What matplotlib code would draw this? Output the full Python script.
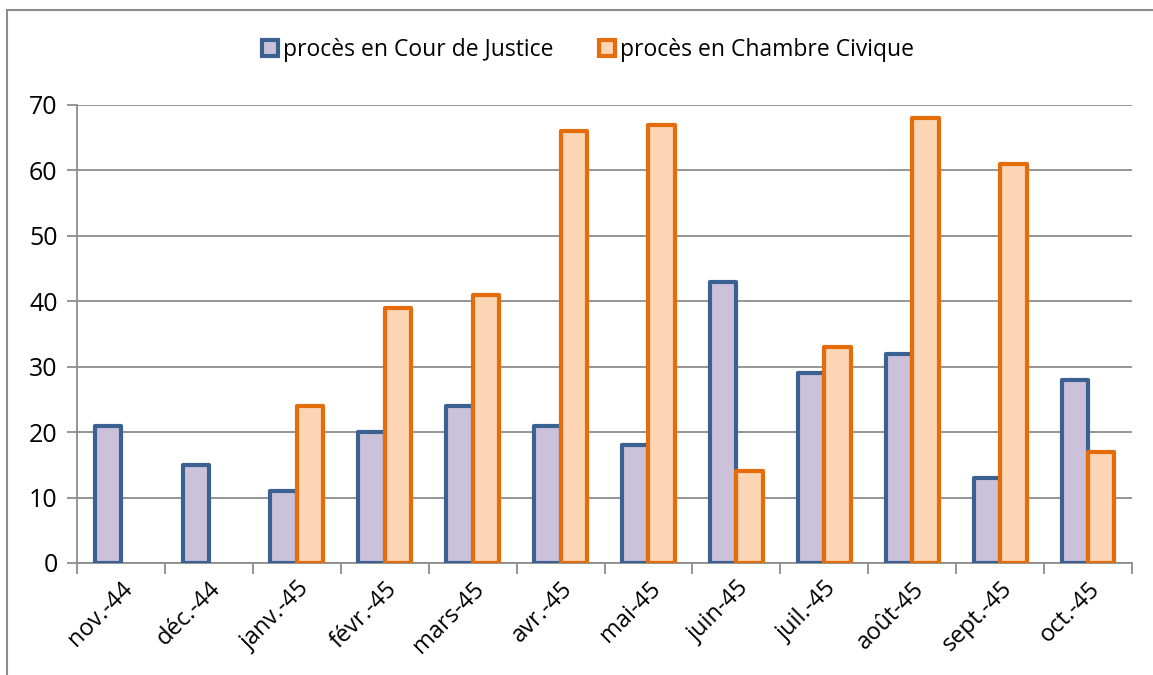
import numpy as np
import matplotlib
matplotlib.use("Agg")
import matplotlib.pyplot as plt
from matplotlib.lines import Line2D

# data
mois = ["nov.-44", "déc.-44", "janv.-45", "févr.-45", "mars-45", "avr.-45",
        "mai-45", "juin-45", "juil.-45", "août-45", "sept.-45", "oct.-45"]
cour_justice = [21, 15, 11, 20, 24, 21, 18, 43, 29, 32, 13, 28]
chambre_civique = [np.nan, np.nan, 24, 39, 41, 66, 67, 14, 33, 68, 61, 17]
series_labels = ["procès en Cour de Justice", "procès en Chambre Civique"]

plt.rcParams["font.family"] = ["Open Sans", "DejaVu Sans"]

fig = plt.figure(figsize=(11.53, 6.75), dpi=100)
ax = fig.add_axes([77 / 1153, 1 - 563 / 675, (1132 - 77) / 1153, (563 - 105) / 675])

# outer chart frame (cut off on right and bottom)
fig.add_artist(Line2D([7 / 1153, 7 / 1153], [0, 1 - 10 / 675],
                      transform=fig.transFigure, color="#8c8c8c", lw=1.5))
fig.add_artist(Line2D([7 / 1153, 1.0], [1 - 10 / 675, 1 - 10 / 675],
                      transform=fig.transFigure, color="#8c8c8c", lw=1.5))

x = np.arange(len(mois))
w = 0.3
blue_edge, blue_fill = "#3a6191", "#ccc1da"
orange_edge, orange_fill = "#e46c0a", "#fcd5b5"

ax.bar(x - w / 2, cour_justice, w, color=blue_fill, edgecolor=blue_edge,
       linewidth=3, joinstyle="round", zorder=3, label=series_labels[0])
ax.bar(x + w / 2, chambre_civique, w, color=orange_fill, edgecolor=orange_edge,
       linewidth=3, joinstyle="round", zorder=4, label=series_labels[1])

ax.set_xlim(-0.5, len(mois) - 0.5)
ax.set_ylim(0, 70)
ax.set_yticks(np.arange(0, 71, 10))
ax.yaxis.grid(True, color="#8c8c8c", lw=1.3)
ax.set_axisbelow(True)

ax.set_xticks(x)
ax.set_xticklabels(mois, rotation=45, ha="right", rotation_mode="anchor", fontsize=17)
ax.set_xticks(np.arange(-0.5, len(mois)), minor=True)
ax.tick_params(axis="x", which="major", length=0, pad=10)
ax.tick_params(axis="x", which="minor", length=8, color="#8c8c8c", width=1.3)
ax.tick_params(axis="y", length=7, color="#8c8c8c", width=1.3, labelsize=18, pad=7)

for side in ["top", "right"]:
    ax.spines[side].set_visible(False)
for side in ["left", "bottom"]:
    ax.spines[side].set_color("#8c8c8c")
    ax.spines[side].set_linewidth(1.3)

fig.legend(loc="center", bbox_to_anchor=(0.51, 1 - 50 / 675), ncol=2,
           frameon=False, fontsize=16.5, handlelength=0.7, handleheight=0.7,
           handletextpad=0.2, columnspacing=2.0)

fig.savefig("out.png", dpi=100)
